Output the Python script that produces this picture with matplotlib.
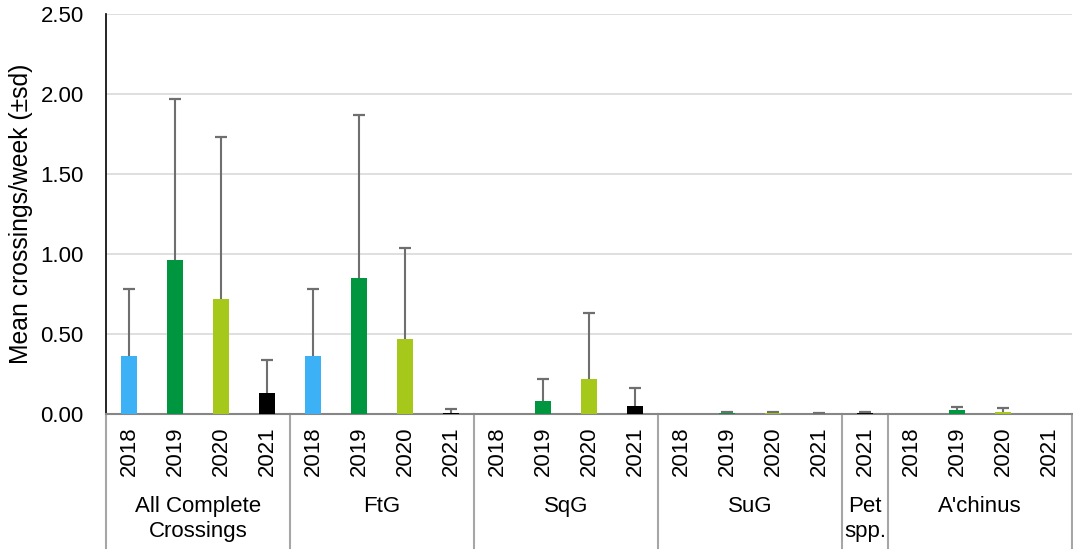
import matplotlib
matplotlib.use("Agg")
import matplotlib.pyplot as plt
import numpy as np

plt.rcParams['font.family'] = ['Liberation Sans', 'DejaVu Sans']

groups = ["All Complete\nCrossings", "FtG", "SqG", "SuG", "Pet\nspp.", "A'chinus"]
group_years = [
    ["2018", "2019", "2020", "2021"],
    ["2018", "2019", "2020", "2021"],
    ["2018", "2019", "2020", "2021"],
    ["2018", "2019", "2020", "2021"],
    ["2021"],
    ["2018", "2019", "2020", "2021"],
]
means = [
    [0.36, 0.96, 0.72, 0.13],
    [0.36, 0.85, 0.47, 0.005],
    [0.0, 0.08, 0.22, 0.05],
    [0.0, 0.005, 0.005, 0.002],
    [0.005],
    [0.0, 0.025, 0.015, 0.0],
]
sds = [
    [0.42, 1.01, 1.01, 0.21],
    [0.42, 1.02, 0.57, 0.025],
    [0.0, 0.14, 0.41, 0.11],
    [0.0, 0.01, 0.01, 0.006],
    [0.01],
    [0.0, 0.02, 0.02, 0.0],
]
year_colors = {"2018": "#3DB1F5", "2019": "#00963F", "2020": "#A5C81A", "2021": "#000000"}

years_flat = [y for g in group_years for y in g]
means_flat = np.array([m for g in means for m in g])
sds_flat = np.array([s for g in sds for s in g])
x = np.arange(len(years_flat))

FS = 16

fig = plt.figure(figsize=(10.73, 5.5), dpi=100)
ax = fig.add_axes([106 / 1073, 1 - 414 / 550, (1072 - 106) / 1073, 400 / 550])

ax.bar(x, means_flat, width=0.33, color=[year_colors[y] for y in years_flat], zorder=3)

# Upper-only error bars (mean + sd) with a cap at the top
has_sd = sds_flat > 0
tops = means_flat + sds_flat
err_color = '#6F6F6F'
ax.vlines(x[has_sd], means_flat[has_sd], tops[has_sd], color=err_color,
          linewidth=1.5, zorder=4)
ax.plot(x[has_sd], tops[has_sd], linestyle='none', marker='_', markersize=8,
        markeredgewidth=1.6, color=err_color, zorder=4)

ax.set_xlim(-0.5, len(years_flat) - 0.5)
ax.set_ylim(0, 2.5)
yt = np.arange(0, 2.51, 0.5)
ax.set_yticks(yt)
ax.set_yticklabels([f"{v:.2f}" for v in yt], fontsize=FS)
ax.yaxis.grid(True, color='#D9D9D9', linewidth=1.2, zorder=0)
ax.set_axisbelow(True)
ax.tick_params(axis='y', length=0, pad=16)
ax.set_ylabel("Mean crossings/week (±sd)", fontsize=17.8)
ax.yaxis.set_label_coords(-73 / 966, 0.5)

ax.set_xticks(x)
ax.set_xticklabels(years_flat, rotation=90, fontsize=FS)
ax.tick_params(axis='x', length=0, pad=9)

for side in ['top', 'right']:
    ax.spines[side].set_visible(False)
ax.spines['left'].set_color('#000000')
ax.spines['left'].set_linewidth(1.2)
ax.spines['bottom'].set_color('#868686')
ax.spines['bottom'].set_linewidth(1.5)

# Group separators and group labels beneath the year labels
trans = ax.get_xaxis_transform()
bottom_y = -134 / 400
start = 0
bounds = [-0.5]
for g, yrs in zip(groups, group_years):
    end = start + len(yrs)
    bounds.append(end - 0.5)
    cx = (start + end - 1) / 2
    ax.text(cx, -82 / 400, g, transform=trans, ha='center', va='top',
            fontsize=FS, linespacing=1.25)
    start = end
for b in bounds:
    ax.plot([b, b], [0, bottom_y], transform=trans, color='#A6A6A6',
            linewidth=1.5, clip_on=False)

fig.savefig("out.png", dpi=100)
